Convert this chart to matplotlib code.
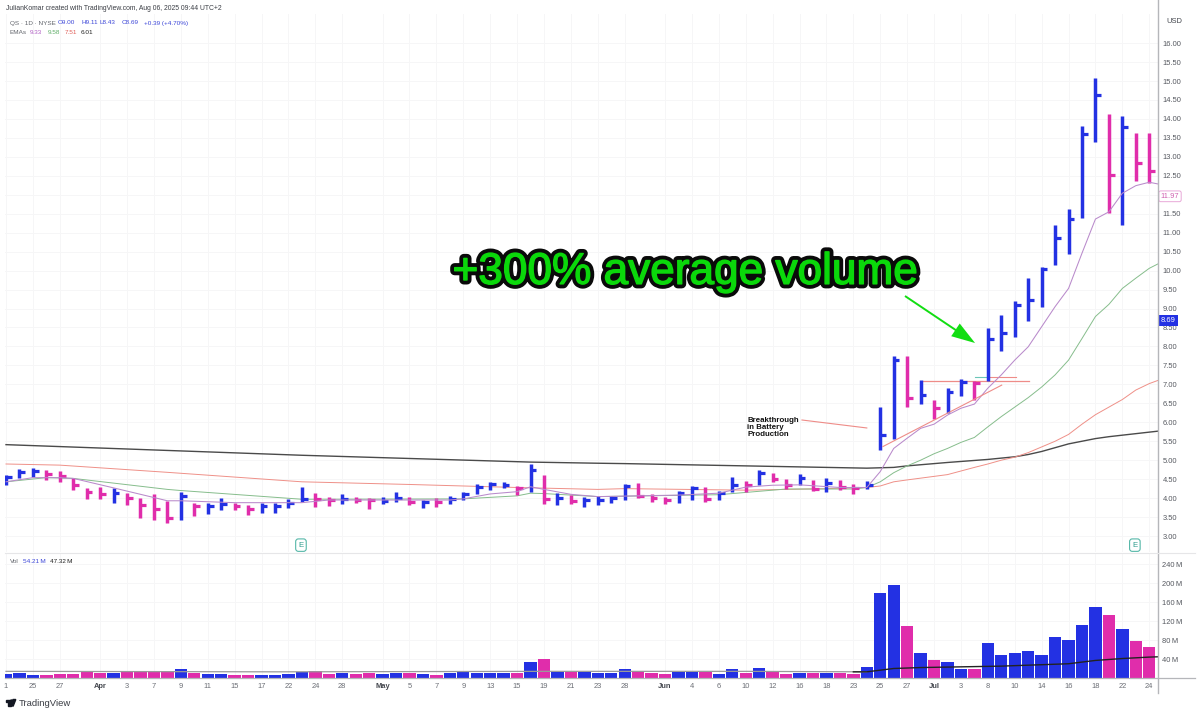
import matplotlib
matplotlib.use("Agg")
import matplotlib.pyplot as plt
import matplotlib.patheffects as pe
from matplotlib.lines import Line2D
from matplotlib.patches import Polygon, Circle, FancyArrowPatch

W, H = 1200, 712
plt.rcParams['font.family'] = ['Liberation Sans', 'DejaVu Sans']

# ---------- data ----------
highs = [4.61,4.76,4.79,4.74,4.72,4.54,4.26,4.30,4.26,4.14,3.99,4.11,3.93,4.16,3.86,3.88,3.99,3.86,3.82,3.86,3.88,3.97,
         4.28,4.14,4.02,4.10,4.04,3.99,4.03,4.16,4.02,3.95,3.99,4.05,4.17,4.37,4.43,4.43,4.32,4.89,4.61,4.14,4.09,4.04,4.06,
         4.06,4.36,4.41,4.11,4.04,4.20,4.32,4.28,4.19,4.57,4.45,4.74,4.65,4.51,4.64,4.48,4.54,4.47,4.37,4.44,
         6.39,7.75,7.76,7.11,6.59,6.90,7.13,7.09,8.48,8.83,9.20,9.81,10.09,11.19,11.62,13.82,15.07,14.13,14.08,13.63,13.63]
lows = [4.35,4.54,4.55,4.48,4.43,4.21,3.98,3.98,3.88,3.83,3.48,3.43,3.35,3.41,3.53,3.57,3.69,3.68,3.55,3.60,3.60,3.75,
        3.91,3.76,3.80,3.85,3.87,3.70,3.84,3.90,3.81,3.73,3.77,3.84,3.94,4.12,4.22,4.26,4.09,4.17,3.85,3.82,3.84,3.76,3.82,
        3.88,3.94,3.99,3.89,3.84,3.86,3.95,3.90,3.96,4.16,4.17,4.35,4.43,4.24,4.35,4.18,4.16,4.21,4.12,4.23,
        5.27,5.56,6.39,6.47,6.09,6.24,6.70,6.59,7.10,7.88,8.25,8.66,9.05,10.14,10.43,11.40,13.38,11.51,11.19,12.37,12.32]
closes = [4.55,4.70,4.72,4.63,4.58,4.35,4.17,4.10,4.13,3.99,3.83,3.71,3.47,4.06,3.80,3.78,3.84,3.79,3.70,3.79,3.79,3.88,
          3.97,3.97,3.95,3.98,3.96,3.95,3.93,3.99,3.89,3.91,3.91,3.98,4.10,4.28,4.37,4.35,4.26,4.74,3.97,3.99,3.93,3.95,3.95,
          3.99,4.32,4.06,3.99,3.95,4.13,4.26,3.98,4.13,4.35,4.35,4.67,4.50,4.35,4.52,4.23,4.41,4.30,4.26,4.35,
          5.67,7.64,6.63,6.72,6.37,6.81,7.07,7.04,8.19,8.36,9.09,9.22,10.04,10.85,11.35,13.59,14.64,12.52,13.80,12.83,12.63]
directions = list("bbbppppp" "b" "pppp" "b" "p" "bb" "pp" "bbbb" "pp" "b" "pp" "bb" "p" "b" "p" "bbbbb" "p" "b" "p" "b" "p"
                  "bbbb" "ppp" "bb" "p" "bb" "p" "b" "pp" "b" "p" "b" "pp" "bbb" "p" "b" "p" "bb" "p" "bbbbbbbbb" "p" "b" "pp")

volumes = [7.7,9.8,7,7,8.4,8.4,11.9,11.2,11.2,11.9,13.3,12.6,12.6,19.6,11.2,8.4,8.4,7,6.3,6.3,7,8.4,13.3,14,8.4,11.2,8.4,10.5,7.7,10.5,
           9.8,7.7,6.3,9.8,11.9,11.2,10.5,11.2,11.2,34.4,40.7,13.3,13.3,11.9,9.8,10.5,18.9,15.4,11.2,8.4,11.9,11.9,11.9,8.4,19.6,9.8,21,11.9,9.1,9.8,
           9.8,10.5,11.2,7.7,23,179,196.5,108.8,52,38,33,20,18,73.7,49,53,56,48,85.6,80,111.6,148.8,132,104,78.6,66]
vol_ma_early_idx = [0,20,40,55,64]
vol_ma_early = [14,13,14,14,13]
vol_ma_late_idx = [63,64,66,68,70,74,79,81,83,85,86]
vol_ma_late = [13,13,20,22,23,25,30,37,41,44,45]

purple_idx = [0,2,4,5,8,12,13,17,22,24,33,34,36,38,39,40,42,44,50,53,55,57,59,62,64,65,66,67,68,69,70,71,72,73,74,75,76,77,78,79,80,81,82,83,84,85,86]
purple = [4.43,4.54,4.54,4.52,4.27,3.93,3.93,3.88,3.88,3.95,3.95,3.98,4.11,4.17,4.30,4.23,4.10,4.04,4.08,4.13,4.29,4.34,4.35,4.28,4.28,4.70,5.31,5.58,5.84,5.95,6.19,6.37,6.48,6.90,7.25,7.64,7.99,8.52,9.05,9.53,10.46,11.36,11.55,12.04,12.24,12.33,12.26]
green_idx = [0,3,5,12,13,22,34,36,38,39,40,42,44,53,55,58,63,64,65,66,67,68,69,70,71,72,73,74,75,76,77,78,79,80,81,82,83,84,85,86]
green = [4.43,4.54,4.52,4.23,4.20,3.97,3.98,4.02,4.06,4.13,4.12,4.08,4.04,4.09,4.15,4.24,4.24,4.28,4.43,4.67,4.85,5.00,5.17,5.31,5.47,5.60,5.88,6.15,6.40,6.65,6.93,7.25,7.64,8.21,8.79,9.11,9.53,9.80,10.06,10.24]
red_idx = [0,4,12,22,30,38,44,46,55,61,64,65,66,67,70,72,73,74,75,76,77,78,79,80,81,82,83,84,85,86]
red = [4.90,4.87,4.68,4.43,4.36,4.28,4.23,4.25,4.21,4.25,4.28,4.32,4.43,4.48,4.62,4.81,4.90,5.00,5.08,5.20,5.35,5.50,5.68,5.95,6.20,6.40,6.60,6.85,7.02,7.15]
black_idx = [0,22,39,44,46,64,65,66,67,70,73,75,76,77,78,79,80,81,82,83,84,85,86]
black = [5.41,5.13,4.95,4.92,4.91,4.79,4.80,4.81,4.85,4.94,5.02,5.09,5.15,5.23,5.33,5.43,5.50,5.57,5.62,5.66,5.70,5.74,5.78]

tick_idx = [0,2,4,7,9,11,13,15,17,19,21,23,25,28,30,32,34,36,38,40,42,44,46,49,51,53,55,57,59,61,63,65,67,69,71,73,75,77,79,81,83,85]
tick_labels = ["1","25","27","Apr","3","7","9","11","15","17","22","24","28","May","5","7","9","13","15","19","21","23","28",
               "Jun","4","6","10","12","16","18","23","25","27","Jul","3","8","10","14","16","18","22","24"]
price_ticks = [3.0+0.5*i for i in range(27)]
vol_ticks = [40,80,120,160,200,240]

BLUE, PINK = "#2331E3", "#E02DAB"
PURPLE, GREEN, RED, DARK = "#B98ACB", "#86BD8C", "#EF9088", "#4A4A4A"
GRID = "#F6F6F7"
TXT = "#55585F"
FS = 5.4
HS = 4.6

# ---------- layout ----------
fig = plt.figure(figsize=(W/100, H/100), dpi=100, facecolor="white")
def fx(x): return x/W
def fy(y): return 1-y/H
def pane(x0, y0, x1, y1):
    return fig.add_axes([fx(x0), fy(y1), fx(x1)-fx(x0), fy(y0)-fy(y1)])

ax = pane(5, 14, 1158, 552)
vx = pane(5, 553, 1158, 678)
xlim = (-0.074, 85.65)
ax.set_xlim(*xlim); vx.set_xlim(*xlim)
ax.set_ylim(2.579, 16.767)
vx.set_ylim(0, 263.2)

for a in (ax, vx):
    a.set_axisbelow(True)
    a.grid(True, color=GRID, lw=0.7)
    for s in a.spines.values():
        s.set_visible(False)
    a.set_xticks(tick_idx)
    a.yaxis.tick_right()
    a.tick_params(length=0, labelsize=FS, labelcolor=TXT, pad=3.2)

ax.tick_params(labelbottom=False)
ax.set_yticks(price_ticks)
# the 11.97 badge covers the 12.00 label
ax.set_yticklabels(["" if p == 12.0 else f"{p:.2f}" for p in price_ticks])

# ---------- price bars ----------
cols = [BLUE if d == "b" else PINK for d in directions]
ax.vlines(range(len(highs)), lows, highs, colors=cols, lw=2.5, zorder=3)
ax.hlines(closes, range(len(closes)), [i+0.43 for i in range(len(closes))], colors=cols, lw=2.3, zorder=3)

# ---------- EMAs ----------
ax.plot(black_idx, black, color=DARK, lw=1.0, zorder=2)
ax.plot(red_idx, red, color=RED, lw=0.7, zorder=2)
ax.plot(green_idx, green, color=GREEN, lw=0.7, zorder=2)
ax.plot(purple_idx, purple, color=PURPLE, lw=0.75, zorder=4)

# ---------- drawings ----------
ax.plot([65.2, 74.03], [5.36, 6.98], color="#EE8C88", lw=0.8, zorder=4)
ax.plot([68.16, 76.04], [7.09, 7.09], color="#EE8C88", lw=0.9, zorder=2)
ax.plot([72.05, 73.0], [7.19, 7.19], color="#6CC6B8", lw=0.8, zorder=2)
ax.plot([73.0, 75.07], [7.19, 7.19], color="#EE8C88", lw=0.8, zorder=2)
ax.plot([59.18, 64.0], [6.06, 5.85], color="#EE8C88", lw=0.8, zorder=4)

ax.text(55.1, 5.87, "Breakthrough\nin Battery\nProduction", fontsize=5.7, fontweight="bold",
        color="#111111", ha="left", va="center", linespacing=1.0, zorder=6)

ax.text(33.2, 9.65, "+300% average volume", fontsize=31.8,
        color="#0BD80B", ha="left", va="baseline", zorder=7,
        path_effects=[pe.Stroke(linewidth=6.5, foreground="#0A0A0A"),
                      pe.Stroke(linewidth=1.0, foreground="#0BD80B"), pe.Normal()])

ax.add_patch(FancyArrowPatch((66.84, 9.33), (72.05, 8.09),
             arrowstyle="simple,head_length=0.85,head_width=0.55,tail_width=0.07",
             mutation_scale=20, color="#12DD12", lw=0, shrinkA=0, shrinkB=0, zorder=7))

for i in (22, 84):
    ax.text(i-0.07, 2.76, "E", fontsize=5.6, color="#2C9C8C", ha="center", va="center", zorder=6,
            bbox=dict(boxstyle="round,pad=0.35", fc="white", ec="#55B7A8", lw=0.8))

# ---------- volume ----------
vx.bar(range(len(volumes)), volumes, width=0.92, color=cols, zorder=3)
vx.plot(vol_ma_early_idx, vol_ma_early, color="#9A9A9A", lw=0.9, zorder=4)
vx.plot(vol_ma_late_idx, vol_ma_late, color="#222222", lw=1.0, zorder=4)
vx.set_yticks(vol_ticks)
vx.set_yticklabels([f"{v}\u2009M" for v in vol_ticks])
vx.set_xticklabels(tick_labels)
vx.tick_params(axis="x", pad=3.4, labelcolor="#6B6E75")
for lab in vx.get_xticklabels():
    if lab.get_text() in ("Apr", "May", "Jun", "Jul"):
        lab.set_fontweight("bold")
        lab.set_color("#44474E")

# ---------- frame lines ----------
def fline(x0, y0, x1, y1, c, lw):
    fig.add_artist(Line2D([fx(x0), fx(x1)], [fy(y0), fy(y1)], color=c, lw=lw, zorder=10))
fline(1158, 0, 1158, 693, "#B5B6BA", 1.0)
fline(5, 552.5, 1195, 552.5, "#E6E6E8", 0.8)
fline(5, 678, 1195, 678, "#B5B6BA", 0.9)

# ---------- texts ----------
def ft(x, y, s, c=TXT, fs=FS, **kw):
    fig.text(fx(x), fy(y), s, color=c, fontsize=fs, va="center", ha=kw.pop("ha", "left"), **kw)

ft(6, 8.5, "JulianKomar created with TradingView.com, Aug 06, 2025 09:44 UTC+2", c="#3A3D44", fs=4.85)
ft(9.5, 23, "QS \u00b7 1D \u00b7 NYSE", c="#63666D", fs=HS)
OHLC_BLUE = "#3D47D8"
for x, s in [(58, "O9.00"), (81, "H9.11"), (100, "L8.43"), (122, "C8.69"), (144, "+0.39 (+4.70%)")]:
    ft(x, 23, s, c=OHLC_BLUE, fs=HS)
ft(9.5, 32.5, "EMAs", c="#63666D", fs=HS)
for x, s, c in [(30, "9.33", "#B05FC4"), (48, "9.58", "#5FAE68"), (65, "7.51", "#E0605A"), (81, "6.01", "#222222")]:
    ft(x, 32.5, s, c=c, fs=HS)
ft(9.5, 561.5, "Vol", c="#63666D", fs=HS)
ft(23, 561.5, "54.21\u2009M", c=OHLC_BLUE, fs=HS)
ft(50, 561.5, "47.32\u2009M", c="#222222", fs=HS)
ft(1166, 21.5, "USD", c="#44474E")

ft(1168.5, 320.5, "8.69", c="white", ha="center",
   bbox=dict(boxstyle="square,pad=0.3", fc=BLUE, ec=BLUE, lw=0))
ft(1170, 196.3, "11.97", c="#D060B0", ha="center",
   bbox=dict(boxstyle="round,pad=0.25", fc="white", ec="#E8A8D8", lw=0.7))

# ---------- logo ----------
fig.add_artist(Polygon([(fx(6), fy(699.5)), (fx(10.5), fy(699.5)), (fx(10.5), fy(706)), (fx(8.3), fy(706)),
                        (fx(8.3), fy(702)), (fx(6), fy(702))], closed=True, color="#131722", transform=fig.transFigure))
fig.add_artist(Circle((fx(11.7), fy(700.7)), 1.1/W, color="#131722", transform=fig.transFigure))
fig.add_artist(Polygon([(fx(13.2), fy(699.5)), (fx(15.8), fy(699.5)), (fx(13.2), fy(706)), (fx(10.6), fy(706))],
                       closed=True, color="#131722", transform=fig.transFigure))
ft(18.5, 703, "TradingView", c="#3A3D44", fs=6.8)

fig.savefig("out.png", dpi=100, facecolor="white")
